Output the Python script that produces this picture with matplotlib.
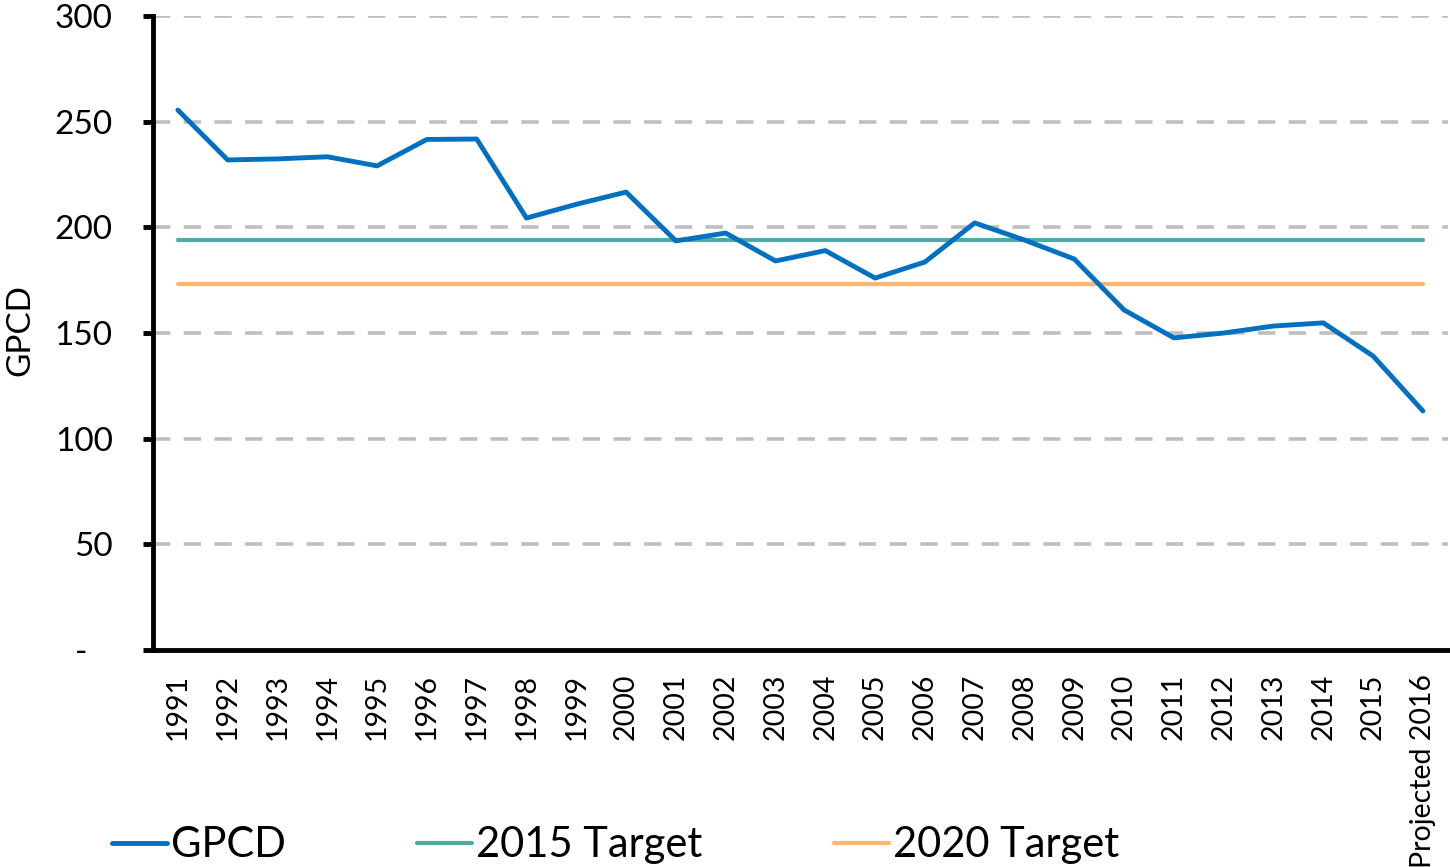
import matplotlib
matplotlib.use("Agg")
import matplotlib.pyplot as plt
from matplotlib.ticker import FixedLocator, FuncFormatter

plt.rcParams['font.family'] = ['Lato', 'DejaVu Sans']

years = ['1991', '1992', '1993', '1994', '1995', '1996', '1997', '1998', '1999',
         '2000', '2001', '2002', '2003', '2004', '2005', '2006', '2007', '2008',
         '2009', '2010', '2011', '2012', '2013', '2014', '2015', 'Projected 2016']
gpcd = [255.5, 231.9, 232.4, 233.4, 229.1, 241.6, 241.8, 204.4, 210.9, 216.7,
        193.6, 197.3, 184.1, 189.0, 176.0, 183.6, 202.1, 194.0, 185.0, 160.9,
        147.7, 150.0, 153.3, 154.8, 139.1, 113.1]
target_2015 = 194
target_2020 = 173

fig = plt.figure(figsize=(14.5, 8.67), dpi=100)
ax = fig.add_axes([0.1055, 0.2503, 0.893, 0.7312])

x = list(range(len(years)))
ax.plot(x, gpcd, color='#0070C0', lw=3.5, label='GPCD', solid_capstyle='round', zorder=3)
ax.plot(x, [target_2015] * len(x), color='#4BACA8', lw=3.0, label='2015 Target',
        solid_capstyle='round', zorder=2)
ax.plot(x, [target_2020] * len(x), color='#FFB66C', lw=3.0, label='2020 Target',
        solid_capstyle='round', zorder=2)

ax.set_xlim(-0.5, len(years) - 0.5)
ax.set_ylim(0, 300)
ax.yaxis.set_major_locator(FixedLocator([0, 50, 100, 150, 200, 250, 300]))
ax.yaxis.set_major_formatter(FuncFormatter(lambda v, p: '-   ' if v == 0 else f'{int(v)}'))
ax.set_xticks(x)
ax.set_xticklabels(years, rotation=90, fontsize=20.5)
ax.tick_params(axis='x', length=0, pad=17)
ax.tick_params(axis='y', length=7, width=3.5, labelsize=24, pad=22)

for yv in [50, 100, 150, 200, 250, 300]:
    ax.axhline(yv, color='#BFBFBF', lw=2.6, dashes=(4.8, 3.7), zorder=1)

for s in ['top', 'right']:
    ax.spines[s].set_visible(False)
for s in ['left', 'bottom']:
    ax.spines[s].set_linewidth(3.5)
ax.set_ylabel('GPCD', fontsize=24)
ax.yaxis.set_label_coords(-0.091, 0.505)

fig.legend(loc='center left', bbox_to_anchor=(0.077, 0.025), ncol=3, frameon=False,
           fontsize=30, handlelength=1.32, handletextpad=0.1, columnspacing=3.15,
           borderaxespad=0, borderpad=0)

fig.savefig('out.png', dpi=100)
